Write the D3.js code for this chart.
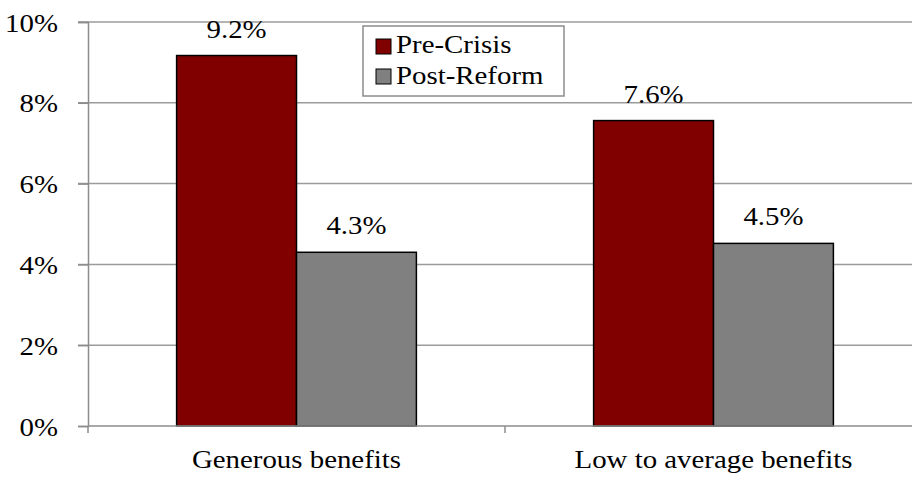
<!DOCTYPE html>
<html><head><meta charset="utf-8">
<script src="https://cdn.jsdelivr.net/npm/d3@7"></script>
<style>body{margin:0;background:#fff}svg{display:block}</style>
</head><body><svg id="c" width="912" height="477"></svg>
<script>
const categories = ["Generous benefits", "Low to average benefits"];
const seriesNames = ["Pre-Crisis", "Post-Reform"];
const preCrisis = [9.17, 7.56];
const postReform = [4.30, 4.52];
const yTicks = [0, 2, 4, 6, 8, 10];
const colors = ["#800000", "#808080"];

const svg = d3.select("#c");
const mLeft = 88, mRight = 922, mTop = 22, mBottom = 426;
const fs = 26, sx = 1.11;
const ff = "Liberation Serif";
function txt(sel) {
  return sel.style("font-size", fs + "px").style("font-family", ff).attr("fill", "#000");
}
function place(sel, fx, fy) {
  return sel.attr("x", 0).attr("y", 0)
    .attr("transform", (d, i) => `translate(${fx(d, i)},${fy(d, i)}) scale(${sx},1)`);
}

const x = d3.scaleBand().domain(categories).range([mLeft, mRight]);
const y = d3.scaleLinear().domain([0, 10]).range([mBottom, mTop]);
const barW = x.bandwidth() * 0.2875;
const xs = d3.scaleBand().domain(seriesNames).range([x.bandwidth() / 2 - barW, x.bandwidth() / 2 + barW]);

// gridlines
svg.append("g").selectAll("line").data(yTicks.filter(d => d > 0)).join("line")
  .attr("x1", mLeft - 10).attr("x2", mRight).attr("y1", d => y(d)).attr("y2", d => y(d))
  .attr("stroke", "#9b9b9b").attr("stroke-width", 1.5);

// y axis
const yAxis = d3.axisLeft(y).tickValues(yTicks).tickFormat(d => d + "%").tickSize(10).tickPadding(20);
const gy = svg.append("g").attr("transform", `translate(${mLeft},0)`).call(yAxis);
gy.attr("font-family", ff);
gy.select(".domain").attr("stroke", "#8c8c8c").attr("stroke-width", 1.5);
gy.selectAll(".tick line").attr("stroke", "#8c8c8c").attr("stroke-width", 1.5);
txt(gy.selectAll(".tick text")).attr("dy", null);
place(gy.selectAll(".tick text"), () => -30, () => 9);

// bars
const data = categories.map((c, i) => ({cat: c, vals: [preCrisis[i], postReform[i]]}));
const groups = svg.append("g").selectAll("g").data(data).join("g")
  .attr("transform", d => `translate(${x(d.cat)},0)`);
groups.selectAll("rect").data(d => d.vals.map((v, j) => ({s: seriesNames[j], v, j}))).join("rect")
  .attr("x", d => xs(d.s)).attr("width", xs.bandwidth())
  .attr("y", d => y(d.v)).attr("height", d => y(0) - y(d.v))
  .attr("fill", d => colors[d.j]).attr("stroke", "#000").attr("stroke-width", 1.5);
const lbl = groups.selectAll("text").data(d => d.vals.map((v, j) => ({s: seriesNames[j], v, j}))).join("text")
  .attr("text-anchor", "middle").text(d => d.v.toFixed(1) + "%");
txt(lbl);
place(lbl, d => xs(d.s) + xs.bandwidth() / 2, d => y(d.v) - 18);

// x axis
const gx = svg.append("g").attr("transform", `translate(0,${mBottom})`);
gx.append("line").attr("x1", mLeft).attr("x2", mRight).attr("stroke", "#8c8c8c").attr("stroke-width", 1.5);
gx.selectAll("line.t").data([mLeft, mLeft + x.bandwidth(), mRight]).join("line").attr("class", "t")
  .attr("x1", d => d).attr("x2", d => d).attr("y1", 0).attr("y2", 7)
  .attr("stroke", "#8c8c8c").attr("stroke-width", 1.5);
const cl = gx.selectAll("text").data(categories).join("text")
  .attr("text-anchor", "middle").text(d => d);
txt(cl);
place(cl, d => x(d) + x.bandwidth() / 2, () => 42);

// legend
const lg = svg.append("g").attr("transform", "translate(363,26)");
lg.append("rect").attr("width", 201).attr("height", 70).attr("fill", "#fff")
  .attr("stroke", "#8c8c8c").attr("stroke-width", 1.5);
lg.selectAll("rect.sw").data(seriesNames).join("rect").attr("class", "sw")
  .attr("x", 13).attr("y", (d, i) => 13 + i * 30).attr("width", 15).attr("height", 15)
  .attr("fill", (d, i) => colors[i]).attr("stroke", "#000").attr("stroke-width", 1);
const lt = lg.selectAll("text").data(seriesNames).join("text").text(d => d);
txt(lt);
place(lt, () => 33, (d, i) => 27 + i * 31);
</script></body></html>
